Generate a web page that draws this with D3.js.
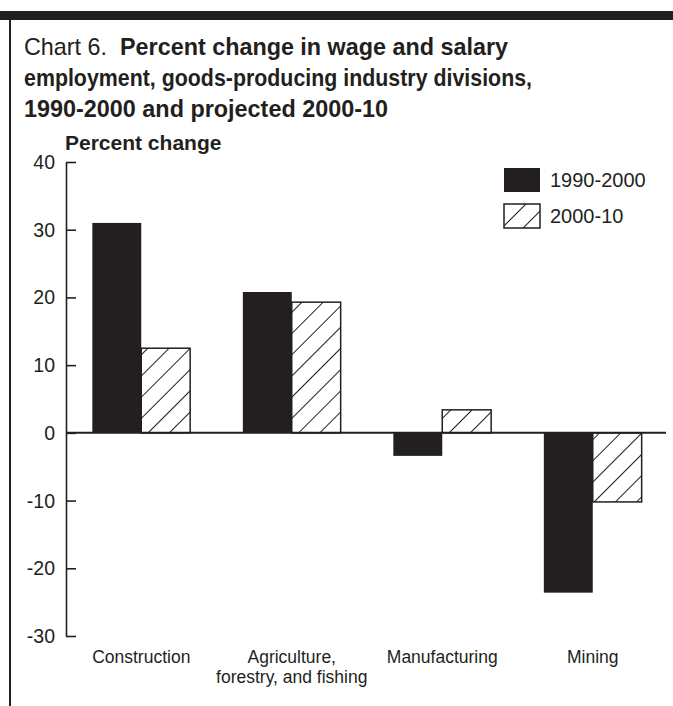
<!DOCTYPE html>
<html>
<head>
<meta charset="utf-8">
<script src="https://cdn.jsdelivr.net/npm/d3@7"></script>
<style>
  body { margin: 0; background: #fff; }
  text { font-family: "Liberation Sans", Arial, Helvetica, sans-serif; fill: #231f20; }
</style>
</head>
<body>
<svg width="673" height="706"></svg>
<script>
var categories = ["Construction", "Agriculture,|forestry, and fishing", "Manufacturing", "Mining"];
var seriesNames = ["1990-2000", "2000-10"];
var values1990 = [31.0, 20.8, -3.4, -23.6];
var values2000 = [12.5, 19.3, 3.4, -10.2];
var yTicks = [40, 30, 20, 10, 0, -10, -20, -30];

var ink = "#231f20";
var svg = d3.select("svg");
var width = +svg.attr("width");

// frame: thick bar on top, thin rule down the left
svg.append("rect").attr("x", 0).attr("y", 11).attr("width", width).attr("height", 9).attr("fill", ink);
svg.append("line").attr("x1", 10).attr("x2", 10).attr("y1", 20).attr("y2", 706)
    .attr("stroke", ink).attr("stroke-width", 2);

// title (the original face is a bit narrower than Arial, so each line is fitted)
var titleLines = [
  ["Chart 6.\u00a0 ", "Percent change in wage and salary", 484],
  ["", "employment, goods-producing industry divisions,", 508],
  ["", "1990-2000 and projected 2000-10", 364]
];
titleLines.forEach(function(l, i) {
  var t = svg.append("text").attr("x", 24).attr("y", 55 + i * 31)
      .style("font-size", "24px")
      .attr("textLength", l[2]).attr("lengthAdjust", "spacingAndGlyphs");
  if (l[0]) t.append("tspan").text(l[0]);
  t.append("tspan").style("font-weight", "bold").text(l[1]);
});

var x0 = 66, x1 = 668;
var y = d3.scaleLinear().domain([-30, 40]).range([636, 162]);
var x = d3.scaleBand().domain(categories).range([x0, x1]).paddingInner(0.35).paddingOuter(0.175);
var xs = d3.scaleBand().domain(seriesNames).range([0, x.bandwidth()]);

// hatch pattern
var defs = svg.append("defs");
var pat = defs.append("pattern").attr("id", "hatch").attr("patternUnits", "userSpaceOnUse")
    .attr("width", 15).attr("height", 15).attr("patternTransform", "rotate(45)");
pat.append("rect").attr("width", 15).attr("height", 15).attr("fill", "#fff");
pat.append("line").attr("x1", 0).attr("x2", 0).attr("y1", 0).attr("y2", 15)
    .attr("stroke", ink).attr("stroke-width", 2);

svg.append("text").attr("x", 65).attr("y", 150)
    .style("font-size", "21px").style("font-weight", "bold").text("Percent change");

// y axis with ticks pointing into the plot
var axis = svg.append("g").attr("transform", "translate(" + x0 + ",0)")
    .call(d3.axisRight(y).tickValues(yTicks).tickSize(10).tickSizeOuter(0).tickFormat(""));
axis.select(".domain").attr("stroke", ink).attr("stroke-width", 1.6);
axis.selectAll(".tick line").attr("stroke", ink).attr("stroke-width", 1.6);

svg.append("g").selectAll("text").data(yTicks).enter().append("text")
    .attr("x", 55).attr("y", function(d) { return y(d); }).attr("dy", "0.36em")
    .attr("text-anchor", "end").style("font-size", "19.5px")
    .text(function(d) { return d; });

var rows = categories.map(function(c, i) {
  return { cat: c, vals: [values1990[i], values2000[i]] };
});

var groups = svg.append("g").selectAll("g").data(rows).enter().append("g")
    .attr("transform", function(d) { return "translate(" + x(d.cat) + ",0)"; });

groups.selectAll("rect").data(function(d) {
    return d.vals.map(function(v, j) { return { s: seriesNames[j], v: v, j: j }; });
  }).enter().append("rect")
    .attr("x", function(d) { return xs(d.s); })
    .attr("width", xs.bandwidth())
    .attr("y", function(d) { return y(Math.max(0, d.v)); })
    .attr("height", function(d) { return Math.abs(y(d.v) - y(0)); })
    .attr("fill", function(d) { return d.j == 0 ? ink : "url(#hatch)"; })
    .attr("stroke", ink)
    .attr("stroke-width", function(d) { return d.j == 0 ? 0 : 1.5; });

// zero line
svg.append("line").attr("x1", x0).attr("x2", 666).attr("y1", y(0)).attr("y2", y(0))
    .attr("stroke", ink).attr("stroke-width", 2);

// category labels
groups.append("text")
    .attr("x", x.bandwidth() / 2).attr("y", 663)
    .attr("text-anchor", "middle").style("font-size", "17.5px")
    .selectAll("tspan").data(function(d) { return d.cat.split("|"); }).enter().append("tspan")
    .attr("x", x.bandwidth() / 2).attr("dy", function(d, i) { return i ? 20 : 0; })
    .text(function(d) { return d; });

// legend
var legend = svg.append("g").selectAll("g").data(seriesNames).enter().append("g")
    .attr("transform", function(d, i) { return "translate(504," + (168 + i * 36) + ")"; });
legend.append("rect").attr("width", 36).attr("height", 24)
    .attr("fill", function(d, i) { return i == 0 ? ink : "url(#hatch)"; })
    .attr("stroke", ink).attr("stroke-width", function(d, i) { return i == 0 ? 0 : 1.5; });
legend.append("text").attr("x", 46).attr("y", 12).attr("dy", "0.36em")
    .style("font-size", "20px").text(function(d) { return d; });
</script>
</body>
</html>
